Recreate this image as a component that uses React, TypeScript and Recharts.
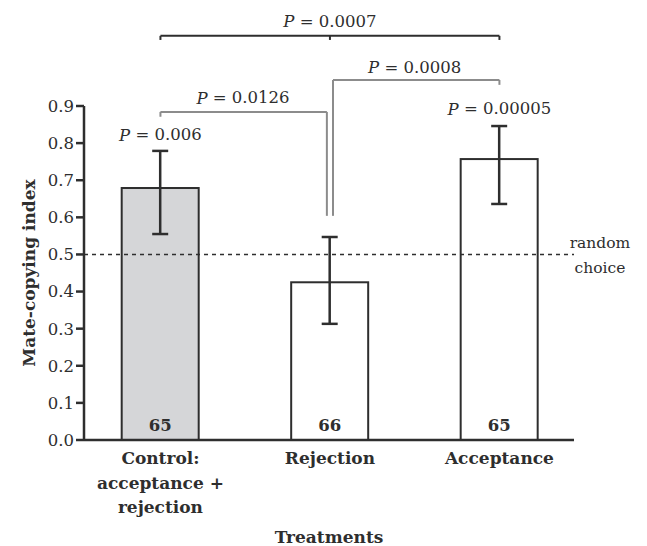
import React from "react";
import {
  ComposedChart,
  Bar,
  XAxis,
  YAxis,
  ErrorBar,
  LabelList,
  ReferenceLine,
  ReferenceDot,
} from "recharts";

const categories = ["Control:\nacceptance +\nrejection", "Rejection", "Acceptance"];
const means = [0.679, 0.425, 0.757];
const errLow = [0.124, 0.112, 0.121];
const errHigh = [0.1, 0.122, 0.089];
const sampleSizes = [65, 66, 65];
const barFills = ["#d5d6d8", "#ffffff", "#ffffff"];
const yTicks = [0, 0.1, 0.2, 0.3, 0.4, 0.5, 0.6, 0.7, 0.8, 0.9];
const randomChoice = 0.5;

// p-values vs random choice (null = not shown)
const pVsRandom = ["0.006", null, "0.00005"];
// pairwise comparisons
const pairFrom = [0, 1, 0];
const pairTo = [2, 2, 1];
const pairP = ["0.0007", "0.0008", "0.0126"];

const INK = "#2e2e2e";
const GRAY = "#8c8c8c";
const FONT = "'DejaVu Serif', serif";

const data = categories.map((c, i) => ({
  x: i,
  name: c,
  mean: means[i],
  err: [errLow[i], errHigh[i]],
  n: sampleSizes[i],
}));

// bracket layout (y in data units, above the axis)
const bracketLayout = [
  { level: 1.089, tick: 1.078, color: INK, midTick: true, drop: null, textX: 1, textY: 1.129 },
  { level: 0.970, tick: 0.957, color: GRAY, midTick: false, drop: "left", textX: 1.5, textY: 1.005 },
  { level: 0.884, tick: 0.871, color: GRAY, midTick: false, drop: "right", textX: 0.487, textY: 0.922 },
];
const dropBottom = 0.604;
const dropGap = 0.018;
const pRandomY = [0.822, 0, 0.892];

const PText = ({ cx, cy, value }: any) => (
  <text
    x={cx}
    y={cy}
    textAnchor="middle"
    dominantBaseline="central"
    fontSize={16.5}
    fill={INK}
    fontFamily={FONT}
  >
    <tspan fontStyle="italic">P</tspan> = {value}
  </text>
);

const CategoryTick = ({ x, y, payload }: any) => {
  const lines = categories[payload.value].split("\n");
  return (
    <text
      x={x}
      y={y + 16}
      textAnchor="middle"
      fontSize={17}
      fontWeight="bold"
      fill={INK}
      fontFamily={FONT}
    >
      {lines.map((l, i) => (
        <tspan key={i} x={x} dy={i === 0 ? 0 : 24.5}>
          {l}
        </tspan>
      ))}
    </text>
  );
};

function brackets() {
  const out: React.ReactNode[] = [];
  pairP.forEach((p, i) => {
    const b = bracketLayout[i];
    const a0 = pairFrom[i] + (b.drop === "left" ? dropGap : 0);
    const a1 = pairTo[i] - (b.drop === "right" ? dropGap : 0);
    const segs: [number, number, number, number][] = [[a0, b.level, a1, b.level]];
    if (b.drop === "left") {
      segs.push([a0, b.level, a0, dropBottom]);
      segs.push([a1, b.level, a1, b.tick]);
    } else if (b.drop === "right") {
      segs.push([a0, b.level, a0, b.tick]);
      segs.push([a1, b.level, a1, dropBottom]);
    } else {
      segs.push([a0, b.level, a0, b.tick]);
      segs.push([a1, b.level, a1, b.tick]);
    }
    if (b.midTick) segs.push([1, b.level, 1, b.tick]);
    segs.forEach((s, j) =>
      out.push(
        <ReferenceLine
          key={`b${i}-${j}`}
          segment={[
            { x: s[0], y: s[1] },
            { x: s[2], y: s[3] },
          ]}
          stroke={b.color}
          strokeWidth={2}
          ifOverflow="visible"
        />
      )
    );
    out.push(
      <ReferenceDot
        key={`bt${i}`}
        x={b.textX}
        y={b.textY}
        r={0}
        ifOverflow="visible"
        shape={(props: any) => <PText {...props} value={p} />}
      />
    );
  });
  pVsRandom.forEach((p, i) => {
    if (!p) return;
    out.push(
      <ReferenceDot
        key={`pr${i}`}
        x={i}
        y={pRandomY[i]}
        r={0}
        ifOverflow="visible"
        shape={(props: any) => <PText {...props} value={p} />}
      />
    );
  });
  return out;
}

export default function App() {
  return (
    <div style={{ position: "absolute", left: 0, top: 0, fontFamily: FONT }}>
      <ComposedChart
        width={647}
        height={546}
        data={data}
        margin={{ top: 106, right: 73, bottom: 0, left: 0 }}
      >
        <XAxis
          type="number"
          dataKey="x"
          domain={[-0.451, 2.44]}
          allowDataOverflow
          ticks={[0, 1, 2]}
          height={106}
          tickLine={false}
          axisLine={{ stroke: INK, strokeWidth: 2.5 }}
          tick={<CategoryTick />}
          interval={0}
          label={{
            value: "Treatments",
            position: "insideBottom",
            offset: 3,
            fontSize: 17,
            fontWeight: "bold",
            fill: INK,
          }}
        />
        <YAxis
          type="number"
          domain={[0, 0.9]}
          ticks={yTicks}
          width={84}
          tickFormatter={(v: number) => v.toFixed(1)}
          tick={{ fill: INK, fontSize: 16.5 }}
          tickLine={{ stroke: INK, strokeWidth: 2.5 }}
          tickSize={8}
          axisLine={{ stroke: INK, strokeWidth: 2.5 }}
          label={{
            content: ({ viewBox }: any) => (
              <text
                transform={`translate(29, ${viewBox.y + viewBox.height / 2}) rotate(-90)`}
                textAnchor="middle"
                dominantBaseline="central"
                fontSize={17}
                fontWeight="bold"
                fill={INK}
                fontFamily={FONT}
              >
                Mate-copying index
              </text>
            ),
          }}
        />
        <ReferenceLine
          y={randomChoice}
          stroke={INK}
          strokeWidth={1.5}
          strokeDasharray="4 4"
          label={{
            content: ({ viewBox }: any) => {
              const cx = viewBox.x + viewBox.width + 26;
              return (
                <text
                  textAnchor="middle"
                  fontSize={15.5}
                  fill={INK}
                  fontFamily={FONT}
                >
                  <tspan x={cx} y={viewBox.y - 6}>random</tspan>
                  <tspan x={cx} y={viewBox.y + 19}>choice</tspan>
                </text>
              );
            },
          }}
        />
        <Bar
          dataKey="mean"
          barSize={77}
          stroke={INK}
          strokeWidth={2}
          isAnimationActive={false}
          shape={(props: any) => (
            <rect
              x={props.x}
              y={props.y}
              width={props.width}
              height={props.height}
              fill={barFills[props.index]}
              stroke={INK}
              strokeWidth={2}
            />
          )}
        >
          <ErrorBar
            dataKey="err"
            width={8}
            stroke={INK}
            strokeWidth={2.5}
            direction="y"
            isAnimationActive={false}
          />
          <LabelList
            dataKey="n"
            position="insideBottom"
            offset={9}
            fontSize={16.5}
            fontWeight="bold"
            fill={INK}
          />
        </Bar>
        {brackets()}
      </ComposedChart>
    </div>
  );
}
